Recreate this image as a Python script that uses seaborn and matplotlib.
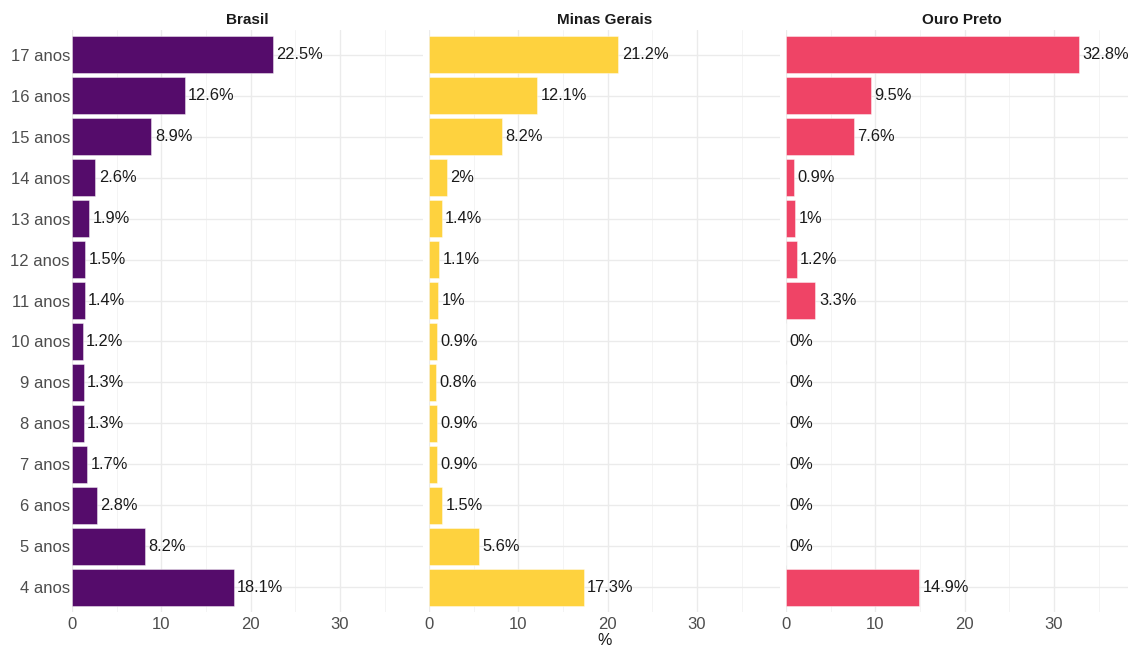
import numpy as np
import pandas as pd
import seaborn as sns
import matplotlib.pyplot as plt
from matplotlib.ticker import MultipleLocator

# data, top row first
ages = ["17 anos", "16 anos", "15 anos", "14 anos", "13 anos", "12 anos", "11 anos",
        "10 anos", "9 anos", "8 anos", "7 anos", "6 anos", "5 anos", "4 anos"]
brasil = [22.5, 12.6, 8.9, 2.6, 1.9, 1.5, 1.4, 1.2, 1.3, 1.3, 1.7, 2.8, 8.2, 18.1]
minas = [21.2, 12.1, 8.2, 2.0, 1.4, 1.1, 1.0, 0.9, 0.8, 0.9, 0.9, 1.5, 5.6, 17.3]
ouro_preto = [32.8, 9.5, 7.6, 0.9, 1.0, 1.2, 3.3, 0, 0, 0, 0, 0, 0, 14.9]

panels = ["Brasil", "Minas Gerais", "Ouro Preto"]
values = [brasil, minas, ouro_preto]
colors = ["#550C6B", "#FED23E", "#EF4466"]
x_ticks = [0, 10, 20, 30]


def main() -> None:
    sns.set_style("white")
    plt.rcParams["font.family"] = ["Liberation Sans", "DejaVu Sans"]

    fig = plt.figure(figsize=(11.28, 6.47), dpi=100)
    lefts = [72 / 1128, 429 / 1128, 786 / 1128]
    width = 351 / 1128
    bottom = 1 - 612 / 647
    height = 582 / 647

    for i, (name, vals, col) in enumerate(zip(panels, values, colors)):
        ax = fig.add_axes([lefts[i], bottom, width, height])
        df = pd.DataFrame({"idade": ages, "pct": vals})
        sns.barplot(
            data=df, x="pct", y="idade", order=ages, ax=ax,
            color=col, saturation=1, width=0.9,
            edgecolor="#FFFFFF99", linewidth=0.5, zorder=3,
        )

        # value labels
        for y, v in enumerate(vals):
            ax.annotate(f"{v:g}%", xy=(v, y), xytext=(2.5, 0),
                        textcoords="offset points", va="center", ha="left",
                        fontsize=11.8, color="#1A1A1A", zorder=4)

        ax.set_xlim(0, 39.3)
        ax.set_ylim(13.6, -0.6)
        ax.xaxis.set_major_locator(MultipleLocator(10))
        ax.xaxis.set_minor_locator(MultipleLocator(5))
        ax.grid(True, which="major", axis="both", color="#EBEBEB", linewidth=1.0, zorder=0)
        ax.grid(True, which="minor", axis="x", color="#F2F2F2", linewidth=0.6, zorder=0)
        ax.set_axisbelow(True)
        for s in ax.spines.values():
            s.set_visible(False)
        ax.tick_params(axis="y", length=0, labelsize=12, labelcolor="#4D4D4D", pad=1.5)
        ax.tick_params(axis="x", which="both", length=0, labelsize=12,
                       labelcolor="#4D4D4D", pad=3.5)
        ax.set_xticks(x_ticks)
        ax.set_ylabel("")
        ax.set_xlabel("%" if i == 1 else "", fontsize=11.5, color="#1A1A1A", labelpad=0.5)
        ax.set_title(name, fontsize=11, fontweight="bold", color="#1A1A1A", pad=4)
        if i > 0:
            ax.set_yticklabels([])
        ax.set_facecolor("white")

    fig.savefig("out.png", dpi=100, facecolor="white")


if __name__ == "__main__":
    main()
